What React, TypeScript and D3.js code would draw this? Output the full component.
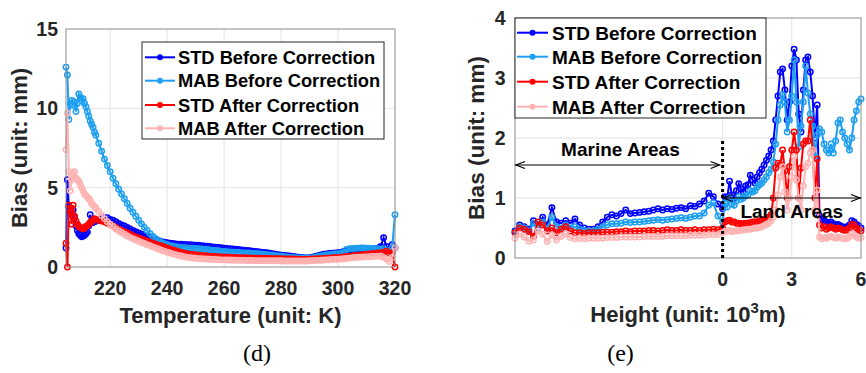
import React from "react";
import * as d3 from "d3";

// ---------------- Data: panel (d) ----------------
const temperatureK: number[] = [...d3.range(204.5, 215.01, 0.5), ...d3.range(216, 321, 1)];

const stdBeforeT: number[] = [
  1.2, 5.5, 3.8, 3.5, 3.3, 3.6, 3.1, 2.6, 2.3, 2.1, 2.0, 1.9, 1.95, 2.0, 2.1, 2.2, 2.6, 3.3, 2.9, 2.8, 2.85, 2.9,
  2.95, 3.05, 3.1, 3.1, 3.0, 2.95, 2.85, 2.75, 2.65, 2.58,
  2.5, 2.4, 2.3, 2.22, 2.14, 2.06, 1.98, 1.9, 1.83, 1.76,
  1.7, 1.65, 1.6, 1.56, 1.53, 1.5, 1.48, 1.46, 1.44, 1.43,
  1.42, 1.41, 1.4, 1.39, 1.38, 1.37, 1.35, 1.33, 1.31, 1.29,
  1.27, 1.25, 1.23, 1.21, 1.19, 1.17, 1.15, 1.13, 1.12, 1.1,
  1.08, 1.06, 1.04, 1.02, 1.0, 0.98, 0.96, 0.94, 0.92, 0.9,
  0.87, 0.84, 0.81, 0.78, 0.75, 0.73, 0.71, 0.69, 0.67, 0.65,
  0.62, 0.6, 0.58, 0.57, 0.58, 0.62, 0.67, 0.72, 0.76, 0.8,
  0.83, 0.85, 0.87, 0.88, 0.9, 0.92, 0.98, 1.05, 1.08, 1.1,
  1.11, 1.12, 1.12, 1.13, 1.13, 1.12, 1.13, 1.15, 1.18, 1.3,
  1.85, 1.3, 1.1, 1.4, 1.2,
];

const mabBeforeT: number[] = [
  12.6, 12.1, 9.3, 10.3, 10.5, 10.2, 10.4, 9.8, 10.3, 10.9, 10.7, 10.5, 10.6, 10.3, 10.1, 9.8, 9.5, 9.2, 9.0, 8.8, 8.5, 8.3,
  7.8, 7.3, 6.8, 6.4, 6.0, 5.6, 5.25, 4.9, 4.6, 4.3,
  4.0, 3.7, 3.45, 3.2, 2.95, 2.72, 2.5, 2.3, 2.1, 1.93,
  1.78, 1.65, 1.55, 1.47, 1.4, 1.35, 1.31, 1.28, 1.25, 1.23,
  1.21, 1.2, 1.19, 1.18, 1.17, 1.16, 1.14, 1.12, 1.1, 1.08,
  1.06, 1.04, 1.02, 1.0, 0.98, 0.96, 0.95, 0.94, 0.92, 0.91,
  0.9, 0.89, 0.88, 0.87, 0.86, 0.85, 0.83, 0.82, 0.8, 0.78,
  0.76, 0.74, 0.72, 0.7, 0.68, 0.66, 0.64, 0.62, 0.6, 0.58,
  0.57, 0.56, 0.55, 0.55, 0.56, 0.58, 0.62, 0.66, 0.7, 0.73,
  0.76, 0.78, 0.8, 0.82, 0.84, 0.86, 0.95, 1.1, 1.15, 1.17,
  1.18, 1.19, 1.2, 1.2, 1.19, 1.18, 1.17, 1.16, 1.15, 1.1,
  1.15, 1.05, 1.0, 1.2, 3.3,
];

const stdAfterT: number[] = [
  1.5, 0, 3.9, 3.5, 2.7, 3.9, 3.2, 2.9, 2.7, 2.55, 2.5, 2.45, 2.4, 2.45, 2.55, 2.6, 2.7, 2.8, 2.85, 2.95, 3.05, 3.0,
  2.95, 2.9, 2.85, 2.75, 2.7, 2.6, 2.5, 2.4, 2.3, 2.22,
  2.14, 2.06, 1.98, 1.9, 1.83, 1.76, 1.7, 1.63, 1.56, 1.5,
  1.44, 1.38, 1.32, 1.26, 1.2, 1.14, 1.08, 1.02, 0.96, 0.91,
  0.87, 0.84, 0.81, 0.79, 0.77, 0.75, 0.73, 0.71, 0.7, 0.68,
  0.67, 0.66, 0.65, 0.64, 0.63, 0.62, 0.61, 0.6, 0.6, 0.59,
  0.58, 0.58, 0.57, 0.57, 0.56, 0.56, 0.55, 0.55, 0.55, 0.54,
  0.54, 0.53, 0.53, 0.52, 0.52, 0.51, 0.51, 0.5, 0.5, 0.49,
  0.49, 0.48, 0.48, 0.48, 0.49, 0.5, 0.51, 0.52, 0.53, 0.54,
  0.55, 0.56, 0.58, 0.59, 0.6, 0.62, 0.64, 0.66, 0.68, 0.7,
  0.72, 0.74, 0.76, 0.78, 0.8, 0.82, 0.84, 0.86, 0.88, 0.9,
  0.92, 1.0, 0.85, 0.9, 0,
];

const mabAfterT: number[] = [
  7.4, 9.7, 6.0, 4.8, 5.5, 5.9, 6.0, 5.6, 5.5, 5.4, 5.2, 5.0, 4.8, 4.6, 4.5, 4.4, 4.3, 4.2, 4.0, 3.9, 3.8, 3.7,
  3.5, 3.25, 3.05, 2.85, 2.7, 2.55, 2.4, 2.28, 2.17, 2.06,
  1.96, 1.87, 1.78, 1.7, 1.62, 1.55, 1.48, 1.41, 1.34, 1.27,
  1.2, 1.13, 1.06, 1.0, 0.94, 0.88, 0.83, 0.78, 0.73, 0.69,
  0.65, 0.62, 0.59, 0.57, 0.55, 0.53, 0.52, 0.51, 0.5, 0.49,
  0.48, 0.47, 0.46, 0.45, 0.45, 0.44, 0.44, 0.43, 0.43, 0.42,
  0.42, 0.42, 0.41, 0.41, 0.41, 0.4, 0.4, 0.4, 0.4, 0.4,
  0.39, 0.39, 0.39, 0.39, 0.39, 0.38, 0.38, 0.38, 0.38, 0.38,
  0.38, 0.38, 0.38, 0.38, 0.39, 0.4, 0.41, 0.42, 0.43, 0.44,
  0.45, 0.46, 0.47, 0.48, 0.49, 0.5, 0.52, 0.54, 0.56, 0.58,
  0.6, 0.61, 0.62, 0.63, 0.64, 0.65, 0.66, 0.67, 0.68, 0.69,
  0.6, 0.5, 0.35, 0.6, 1.2,
];

// ---------------- Data: panel (e) ----------------
const heightKm: number[] = [
  ...d3.range(0, 46).map((i) => -9 + i * 0.2),
  ...d3.range(1, 61).map((i) => i * 0.1),
];

const stdBeforeH: number[] = [
  0.45, 0.55, 0.52, 0.48, 0.62, 0.55, 0.68, 0.55, 0.84, 0.6,
  0.58, 0.62, 0.58, 0.65, 0.55, 0.5, 0.48, 0.48, 0.52, 0.6,
  0.68, 0.72, 0.7, 0.74, 0.8, 0.74, 0.75, 0.76, 0.77, 0.78,
  0.8, 0.82, 0.8, 0.82, 0.81, 0.83, 0.84, 0.82, 0.87, 0.86,
  0.9, 0.95, 1.08, 1.02, 0.9, 0.82,
  1.02, 1.0, 1.28, 1.05, 1.0, 1.12, 1.24, 1.15, 1.1, 1.2,
  1.22, 1.38, 1.3, 1.25, 1.35, 1.42, 1.48, 1.55, 1.63, 1.7,
  1.8, 1.95, 2.3, 2.7, 3.1, 3.15, 2.8, 2.3, 2.6, 3.2,
  3.48, 3.3, 2.4, 2.1, 2.8, 3.3, 3.35, 3.1, 2.7, 2.0,
  2.55, 0.7, 0.65, 0.62, 0.6, 0.58, 0.6, 0.57, 0.55, 0.56,
  0.54, 0.52, 0.5, 0.52, 0.55, 0.62, 0.6, 0.56, 0.54, 0.5,
];

const mabBeforeH: number[] = [
  0.42, 0.52, 0.5, 0.45, 0.58, 0.5, 0.6, 0.5, 0.68, 0.52,
  0.5, 0.55, 0.5, 0.52, 0.48, 0.46, 0.45, 0.45, 0.48, 0.52,
  0.55, 0.57, 0.57, 0.58, 0.6, 0.59, 0.6, 0.6, 0.61, 0.62,
  0.63, 0.64, 0.63, 0.64, 0.65, 0.66, 0.67, 0.66, 0.68, 0.7,
  0.7, 0.75, 0.88, 0.92, 0.7, 0.6,
  0.92, 0.85, 1.0, 0.9, 0.88, 0.95, 1.02, 0.98, 1.0, 1.04,
  1.05, 1.12, 1.1, 1.12, 1.18, 1.22, 1.25, 1.3, 1.35, 1.42,
  1.48, 1.6, 1.9, 2.3, 2.55, 2.72, 2.6, 2.1, 2.3, 2.7,
  3.3, 2.6, 1.85, 2.2, 2.6, 3.2, 2.75, 2.4, 2.2, 1.7,
  2.05, 2.15, 2.1, 1.9, 1.8, 1.75, 1.9, 1.75, 1.95, 2.25,
  2.3, 2.1, 2.0, 1.9, 1.8, 2.0, 2.3, 2.45, 2.6, 2.65,
];

const stdAfterH: number[] = [
  0.42, 0.5, 0.48, 0.44, 0.36, 0.6, 0.55, 0.45, 0.5, 0.42,
  0.48, 0.52, 0.45, 0.42, 0.42, 0.41, 0.42, 0.42, 0.42, 0.43,
  0.43, 0.43, 0.44, 0.44, 0.45, 0.44, 0.45, 0.45, 0.45, 0.46,
  0.46, 0.45, 0.46, 0.47, 0.46, 0.46, 0.47, 0.46, 0.46, 0.47,
  0.46, 0.47, 0.47, 0.48, 0.47, 0.5,
  0.6, 0.62, 0.63, 0.6, 0.6, 0.58, 0.58, 0.57, 0.57, 0.58,
  0.58, 0.59, 0.6, 0.6, 0.6, 0.62, 0.63, 0.64, 0.66, 0.68,
  0.72, 1.0, 1.5, 1.58, 1.55, 1.8, 1.45, 1.0, 1.52, 1.8,
  2.1, 1.8, 1.0, 1.5, 1.9, 1.95, 1.95, 2.3, 1.8, 1.0,
  1.65, 0.55, 0.5, 0.52, 0.48, 0.5, 0.52, 0.5, 0.48, 0.5,
  0.49, 0.47, 0.46, 0.47, 0.5, 0.56, 0.55, 0.5, 0.47, 0.45,
];

const mabAfterH: number[] = [
  0.33, 0.4, 0.35, 0.28, 0.3, 0.45, 0.4, 0.28, 0.38, 0.3,
  0.36, 0.4, 0.34, 0.32, 0.33, 0.32, 0.33, 0.33, 0.33, 0.33,
  0.34, 0.34, 0.34, 0.35, 0.35, 0.35, 0.35, 0.35, 0.36, 0.36,
  0.36, 0.36, 0.36, 0.37, 0.37, 0.37, 0.37, 0.37, 0.38, 0.38,
  0.38, 0.38, 0.39, 0.39, 0.39, 0.42,
  0.44, 0.45, 0.46, 0.44, 0.45, 0.45, 0.46, 0.46, 0.47, 0.47,
  0.48, 0.48, 0.49, 0.5, 0.5, 0.51, 0.52, 0.54, 0.56, 0.58,
  0.62, 0.68, 0.8, 1.05, 1.35, 1.52, 1.1, 0.8, 1.0, 1.35,
  1.69, 1.3, 1.0, 0.8, 1.2, 1.52, 1.58, 1.75, 1.8, 0.8,
  1.13, 0.35, 0.32, 0.34, 0.33, 0.35, 0.36, 0.34, 0.33, 0.35,
  0.34, 0.33, 0.32, 0.33, 0.36, 0.4, 0.38, 0.35, 0.33, 0.34,
];

const seriesNames = ["STD Before Correction", "MAB Before Correction", "STD After Correction", "MAB After Correction"];
const seriesColors = ["#0000ff", "#1e9ff0", "#ff0000", "#ffb3b3"];

const tempTicks = [220, 240, 260, 280, 300, 320];
const tempGrid = [220, 240, 260, 280, 300];
const biasTicksD = [0, 5, 10, 15];
const heightTicks = [0, 3, 6];
const biasTicksE = [0, 1, 2, 3, 4];

const SANS = '"Liberation Sans", Arial, Helvetica, sans-serif';
const SERIF = '"Liberation Serif", "Times New Roman", serif';
const TXT = "#262626";

type Scale = d3.ScaleLinear<number, number>;

function Series({ xs, ys, x, y, color }: { xs: number[]; ys: number[]; x: Scale; y: Scale; color: string }) {
  const line = d3
    .line<number>()
    .x((_, i) => x(xs[i]))
    .y((d) => y(d));
  return (
    <g>
      <path d={line(ys) || ""} fill="none" stroke={color} strokeWidth={2} />
      {ys.map((v, i) => (
        <circle key={i} cx={x(xs[i])} cy={y(v)} r={2.7} fill="none" stroke={color} strokeWidth={1.5} />
      ))}
    </g>
  );
}

function Legend({ x0, y0, w, h, rowYs, lineX0, lineX1, textX, fontSize }: any) {
  return (
    <g>
      <rect x={x0} y={y0} width={w} height={h} fill="#fff" stroke={TXT} strokeWidth={1} />
      {seriesNames.map((name, i) => (
        <g key={name}>
          <line x1={lineX0} x2={lineX1} y1={rowYs[i]} y2={rowYs[i]} stroke={seriesColors[i]} strokeWidth={2} />
          <circle cx={(lineX0 + lineX1) / 2} cy={rowYs[i]} r={3} fill={seriesColors[i]} />
          <text x={textX} y={rowYs[i] + fontSize * 0.36} fontSize={fontSize} fontWeight="bold" fill="#000" fontFamily={SANS}>
            {name}
          </text>
        </g>
      ))}
    </g>
  );
}

function arrowHead(x: number, y: number, dir: number) {
  const L = 9;
  const W = 3.5;
  return `M${x - dir * L},${y - W}L${x},${y}L${x - dir * L},${y + W}`;
}

export default function App() {
  const xD = d3.scaleLinear().domain([204.5, 320]).range([66, 395]);
  const yD = d3.scaleLinear().domain([0, 15]).range([267, 29]);
  const dSeries = [stdBeforeT, mabBeforeT, stdAfterT, mabAfterT];

  const xE = d3.scaleLinear().domain([-9, 6]).range([515, 861]);
  const yE = d3.scaleLinear().domain([0, 4]).range([258, 18]);
  const eSeries = [stdBeforeH, mabBeforeH, stdAfterH, mabAfterH];

  const marineY = yE(1.55);
  const landY = yE(1.0);

  return (
    <svg width={866} height={373} style={{ position: "absolute", left: 0, top: 0, background: "#fff" }}>
      <rect x={0} y={0} width={866} height={373} fill="#fff" />

      {/* ---------- Panel (d) ---------- */}
      <g>
        {tempGrid.map((t) => (
          <line key={t} x1={xD(t)} x2={xD(t)} y1={yD(15)} y2={yD(0)} stroke="#e3e3e3" strokeWidth={1} />
        ))}
        {[5, 10].map((v) => (
          <line key={v} x1={xD(204.5)} x2={xD(320)} y1={yD(v)} y2={yD(v)} stroke="#e3e3e3" strokeWidth={1} />
        ))}
        {dSeries.map((ys, i) => (
          <Series key={i} xs={temperatureK} ys={ys} x={xD} y={yD} color={seriesColors[i]} />
        ))}
        <rect x={xD(204.5)} y={yD(15)} width={xD(320) - xD(204.5)} height={yD(0) - yD(15)} fill="none" stroke="#8c8c8c" strokeWidth={1} />
        {tempTicks.map((t) => (
          <text key={t} x={xD(t)} y={295} textAnchor="middle" fontSize={19.5} fontWeight="bold" fill={TXT} fontFamily={SANS}>
            {t}
          </text>
        ))}
        {biasTicksD.map((v) => (
          <text key={v} x={58} y={yD(v) + 7} textAnchor="end" fontSize={19.5} fontWeight="bold" fill={TXT} fontFamily={SANS}>
            {v}
          </text>
        ))}
        <text x={(xD(204.5) + xD(320)) / 2} y={323} textAnchor="middle" fontSize={22} fontWeight="bold" fill={TXT} fontFamily={SANS}>
          Temperature (unit: K)
        </text>
        <text transform={`translate(27,${(yD(0) + yD(15)) / 2}) rotate(-90)`} textAnchor="middle" fontSize={22} fontWeight="bold" fill={TXT} fontFamily={SANS}>
          Bias (unit: mm)
        </text>
        <Legend x0={142} y0={42} w={242} h={97} rowYs={[57.3, 80.7, 105, 128.3]} lineX0={145} lineX1={175} textX={178} fontSize={18.3} />
        <text x={257} y={360.5} textAnchor="middle" fontSize={24} fill="#000" fontFamily={SERIF}>
          (d)
        </text>
      </g>

      {/* ---------- Panel (e) ---------- */}
      <g>
        {[0, 3].map((t) => (
          <line key={t} x1={xE(t)} x2={xE(t)} y1={yE(4)} y2={yE(0)} stroke="#e3e3e3" strokeWidth={1} />
        ))}
        {[1, 2, 3].map((v) => (
          <line key={v} x1={xE(-9)} x2={xE(6)} y1={yE(v)} y2={yE(v)} stroke="#e3e3e3" strokeWidth={1} />
        ))}
        {eSeries.map((ys, i) => (
          <Series key={i} xs={heightKm} ys={ys} x={xE} y={yE} color={seriesColors[i]} />
        ))}
        <rect x={xE(-9)} y={yE(4)} width={xE(6) - xE(-9)} height={yE(0) - yE(4)} fill="none" stroke="#8c8c8c" strokeWidth={1} />

        <line x1={xE(0)} x2={xE(0)} y1={yE(0)} y2={yE(2)} stroke="#000" strokeWidth={3} strokeDasharray="3,3" />

        <line x1={xE(-9)} x2={xE(-0.13)} y1={marineY} y2={marineY} stroke="#000" strokeWidth={1} />
        <path d={arrowHead(xE(-9) + 1, marineY, -1)} fill="none" stroke="#000" strokeWidth={1.2} />
        <path d={arrowHead(xE(-0.13), marineY, 1)} fill="none" stroke="#000" strokeWidth={1.2} />
        <text x={xE(-4.43)} y={yE(1.7)} textAnchor="middle" fontSize={19} fontWeight="bold" fill="#000" fontFamily={SANS}>
          Marine Areas
        </text>

        <line x1={xE(0)} x2={xE(6)} y1={landY} y2={landY} stroke="#000" strokeWidth={1} />
        <path d={arrowHead(xE(0) + 1, landY, -1)} fill="none" stroke="#000" strokeWidth={1.2} />
        <path d={arrowHead(xE(6) - 1, landY, 1)} fill="none" stroke="#000" strokeWidth={1.2} />
        <text x={xE(3.0)} y={yE(0.66)} textAnchor="middle" fontSize={19} fontWeight="bold" fill="#000" fontFamily={SANS}>
          Land Areas
        </text>

        {heightTicks.map((t) => (
          <text key={t} x={xE(t)} y={286} textAnchor="middle" fontSize={19.5} fontWeight="bold" fill={TXT} fontFamily={SANS}>
            {t}
          </text>
        ))}
        {biasTicksE.map((v) => (
          <text key={v} x={505.7} y={yE(v) + 7} textAnchor="end" fontSize={19.5} fontWeight="bold" fill={TXT} fontFamily={SANS}>
            {v}
          </text>
        ))}
        <text x={(xE(-9) + xE(6)) / 2} y={322} textAnchor="middle" fontSize={22} fontWeight="bold" fill={TXT} fontFamily={SANS}>
          Height (unit: 10
          <tspan dy={-9} fontSize={15}>3</tspan>
          <tspan dy={9}>m)</tspan>
        </text>
        <text transform={`translate(483.5,${(yE(0) + yE(4)) / 2}) rotate(-90)`} textAnchor="middle" fontSize={22.5} fontWeight="bold" fill={TXT} fontFamily={SANS}>
          Bias (unit: mm)
        </text>
        <Legend x0={515} y0={18} w={251} h={100} rowYs={[32.7, 56.7, 81.7, 106.7]} lineX0={517} lineX1={548} textX={552} fontSize={19} />
        <text x={620.5} y={360.5} textAnchor="middle" fontSize={24} fill="#000" fontFamily={SERIF}>
          (e)
        </text>
      </g>
    </svg>
  );
}
